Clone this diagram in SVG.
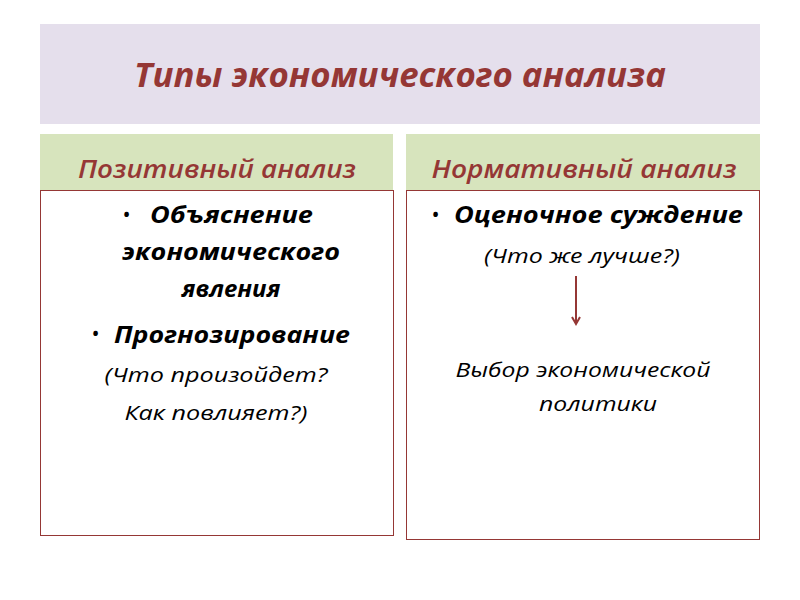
<svg xmlns="http://www.w3.org/2000/svg" width="800" height="600" viewBox="0 0 800 600">
<style>
.t{font-family:"Open Sans","Liberation Sans",sans-serif;font-style:italic;fill:#000}
.b{font-weight:bold}
.h{font-family:"Open Sans","Liberation Sans",sans-serif;font-style:italic;fill:#953735;text-anchor:middle}
.box{fill:#fff;stroke:#953735;stroke-width:1}
</style>
<defs><marker id="a" markerWidth="10" markerHeight="10" refX="8" refY="5" orient="auto" markerUnits="userSpaceOnUse"><path d="M1,1 L8,5 L1,9" fill="none" stroke="#953735" stroke-width="2"/></marker></defs>
<rect width="800" height="600" fill="#fff"/>
<g id="title"><rect x="40" y="24" width="720" height="100" fill="#e5dfec"/><text class="h b" x="400" y="87" font-size="34" textLength="532" lengthAdjust="spacingAndGlyphs">Типы экономического анализа</text></g>
<g id="positive"><rect x="40" y="134" width="353" height="56" fill="#d7e4bd"/><text class="h" x="217" y="178" font-size="25" font-weight="600" textLength="278" lengthAdjust="spacingAndGlyphs">Позитивный анализ</text>
<rect class="box" x="40.5" y="190.5" width="353" height="345"/>
<text class="t" font-size="22" x="122" y="222">•</text>
<text class="t b" font-size="24" x="150" y="223" textLength="163" lengthAdjust="spacingAndGlyphs">Объяснение</text>
<text class="t b" font-size="24" x="231" y="260" text-anchor="middle" textLength="218" lengthAdjust="spacingAndGlyphs">экономического</text>
<text class="t b" font-size="24" x="231" y="297" text-anchor="middle">явления</text>
<text class="t" font-size="22" x="91" y="341">•</text>
<text class="t b" font-size="24" x="114" y="343" textLength="236" lengthAdjust="spacingAndGlyphs">Прогнозирование</text>
<text class="t" font-size="20" x="216" y="382" text-anchor="middle" textLength="223" lengthAdjust="spacingAndGlyphs">(Что произойдет?</text>
<text class="t" font-size="20" x="216" y="420" text-anchor="middle" textLength="183" lengthAdjust="spacingAndGlyphs">Как повлияет?)</text></g>
<g id="normative"><rect x="406" y="134" width="354" height="56" fill="#d7e4bd"/><text class="h" x="584" y="178" font-size="25" font-weight="600" textLength="305" lengthAdjust="spacingAndGlyphs">Нормативный анализ</text>
<rect class="box" x="406.5" y="190.5" width="353" height="349"/>
<text class="t" font-size="22" x="431" y="222">•</text>
<text class="t b" font-size="24" x="454" y="223" textLength="289" lengthAdjust="spacingAndGlyphs">Оценочное суждение</text>
<text class="t" font-size="20" x="582" y="263" text-anchor="middle" textLength="196" lengthAdjust="spacingAndGlyphs">(Что же лучше?)</text>
<text class="t" font-size="20" x="583" y="377" text-anchor="middle" textLength="255" lengthAdjust="spacingAndGlyphs">Выбор экономической</text>
<text class="t" font-size="20" x="598" y="411" text-anchor="middle" textLength="118" lengthAdjust="spacingAndGlyphs">политики</text></g>
<g id="connectors"><line x1="576" y1="276" x2="576" y2="324" stroke="#953735" stroke-width="2" marker-end="url(#a)"/></g>
</svg>
